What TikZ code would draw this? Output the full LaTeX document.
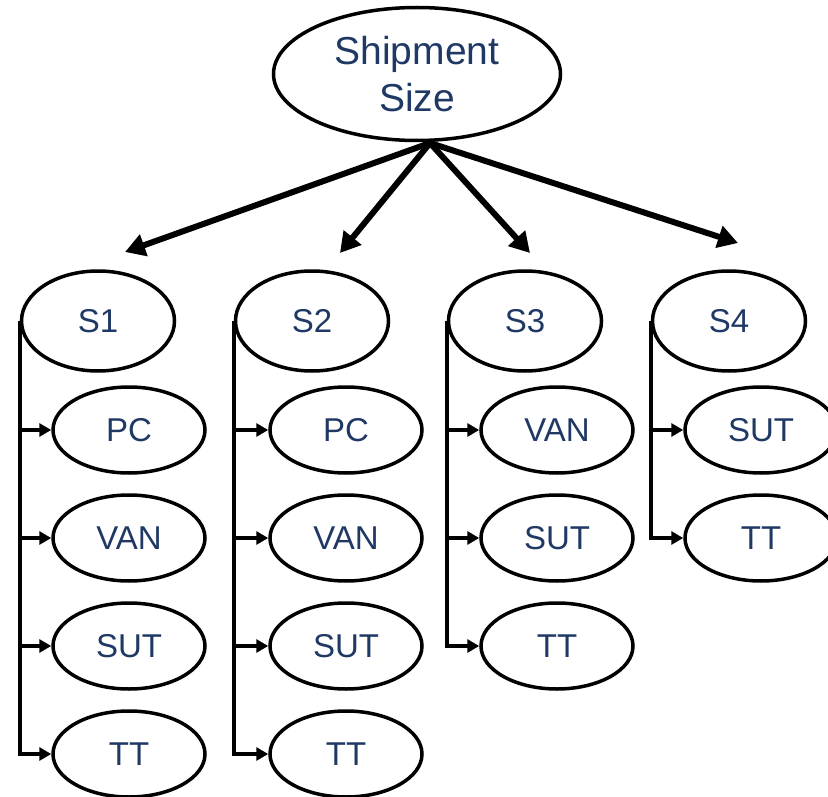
\documentclass[tikz,border=0pt]{standalone}
\usepackage{fontspec}
\setmainfont{Liberation Sans}
\usetikzlibrary{arrows.meta,shapes.geometric}
\definecolor{navy}{RGB}{31,56,100}
\tikzset{
  oval/.style={ellipse,draw,line width=3.5pt,inner sep=0pt,text=navy,font=\fontsize{33}{40}\selectfont},
  mode/.style={oval,minimum width=152pt,minimum height=86pt},
  class/.style={oval,minimum width=153pt,minimum height=100pt},
  fan/.style={line width=6pt,-{Triangle[length=20pt,width=22pt]}},
  branch/.style={line width=3.5pt,-{Triangle[length=12pt,width=13pt]}}
}

\begin{document}
\begin{tikzpicture}[x=1pt,y=-1pt]
\useasboundingbox (0,0) rectangle (828,797);
\node[oval,minimum width=287pt,minimum height=133pt,align=center,
      font=\fontsize{39}{47}\selectfont] (size) at (417,74) {Shipment\\Size};
\coordinate (hub) at (430,143);

%% size classes
\foreach \s/\x in {1/98,2/312,3/525,4/729}
  \node[class] (s\s) at (\x,321) {S\s};

%% arrows fanning out from the top
\foreach \s/\p in {1/{125,252},2/{340,253},3/{530,253},4/{738,243}} {
  \coordinate (t\s) at (\p);
  \draw[fan] (hub) -- (t\s);
}

%% vehicle types of each class
\foreach \s/\x/\modes in {1/129/{PC,VAN,SUT,TT},2/346/{PC,VAN,SUT,TT},
                          3/557/{VAN,SUT,TT},4/761/{SUT,TT}}
  \foreach \m [count=\i] in \modes {
    \node[mode] (s\s-\m) at (\x,{322+108*\i}) {\m};
    \draw[branch] (s\s.west) |- (s\s-\m.west);
  }
\end{tikzpicture}
\end{document}
